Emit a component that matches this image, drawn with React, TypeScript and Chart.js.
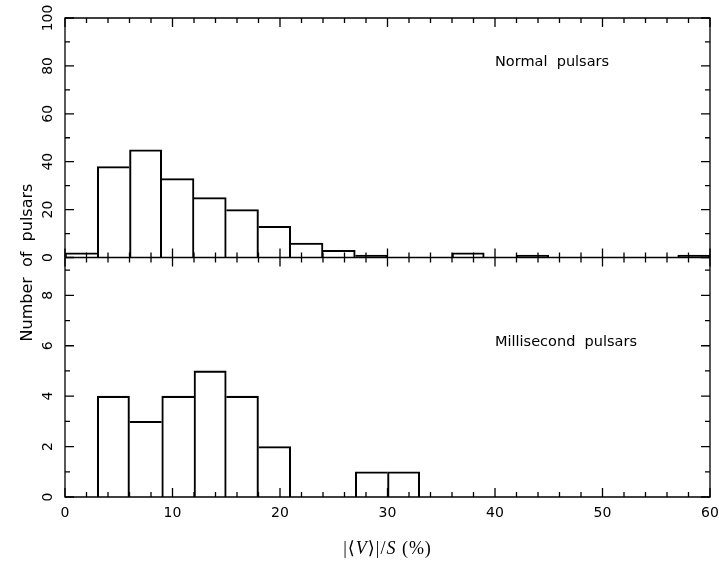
import React, { useEffect, useRef } from "react";
import { Chart, registerables } from "chart.js";

Chart.register(...registerables);

// ---- data ----
const binStarts = [0, 3, 6, 9, 12, 15, 18, 21, 24, 27, 30, 33, 36, 39, 42, 45, 48, 51, 54, 57];
const binWidth = 3;
const normalCounts = [2, 38, 45, 33, 25, 20, 13, 6, 3, 1, 0, 0, 2, 0, 1, 0, 0, 0, 0, 1];
const msCounts = [0, 4, 3, 4, 5, 4, 2, 0, 0, 1, 1, 0, 0, 0, 0, 0, 0, 0, 0, 0];

const xMajorTicks = [0, 10, 20, 30, 40, 50, 60];
const xMinorTicks = [2, 4, 6, 8, 12, 14, 16, 18, 22, 24, 26, 28, 32, 34, 36, 38, 42, 44, 46, 48, 52, 54, 56, 58];
const topYMajor = [0, 20, 40, 60, 80, 100];
const topYMinor = [10, 30, 50, 70, 90];
const botYMajor = [0, 2, 4, 6, 8];
const botYMinor = [1, 3, 5, 7, 9];
const botYMax = 9.5;

const topLabel = "Normal  pulsars";
const botLabel = "Millisecond  pulsars";
const yTitle = "Number  of  pulsars";

const EDGE = 1.4;

const pgAxes = {
  id: "pgAxes",
  afterDraw(chart: any) {
    const ctx = chart.ctx as CanvasRenderingContext2D;
    const xs = chart.scales.x;
    const yt = chart.scales.yTop;
    const yb = chart.scales.yBot;
    const xMin = xMajorTicks[0];
    const xMax = xMajorTicks[xMajorTicks.length - 1];
    const left = xs.getPixelForValue(xMin);
    const right = xs.getPixelForValue(xMax);
    const top = yt.getPixelForValue(topYMajor[topYMajor.length - 1]);
    const mid = yt.getPixelForValue(0);
    const bottom = yb.getPixelForValue(0);
    const maj = 9;
    const min = 5;

    ctx.save();
    ctx.strokeStyle = "#000";
    ctx.lineWidth = 1.3;
    ctx.beginPath();
    ctx.rect(left, top, right - left, bottom - top);
    ctx.moveTo(left, mid);
    ctx.lineTo(right, mid);
    ctx.stroke();

    ctx.beginPath();
    const xt = (v: number, len: number) => {
      const p = xs.getPixelForValue(v);
      ctx.moveTo(p, top);
      ctx.lineTo(p, top + len);
      ctx.moveTo(p, mid - len);
      ctx.lineTo(p, mid + len);
      ctx.moveTo(p, bottom);
      ctx.lineTo(p, bottom - len);
    };
    xMajorTicks.forEach((v) => xt(v, maj));
    xMinorTicks.forEach((v) => xt(v, min));
    const yTick = (sc: any, v: number, len: number) => {
      const p = sc.getPixelForValue(v);
      ctx.moveTo(left, p);
      ctx.lineTo(left + len, p);
      ctx.moveTo(right, p);
      ctx.lineTo(right - len, p);
    };
    topYMajor.forEach((v) => yTick(yt, v, maj));
    topYMinor.forEach((v) => yTick(yt, v, min));
    botYMajor.forEach((v) => yTick(yb, v, maj));
    botYMinor.forEach((v) => yTick(yb, v, min));
    ctx.stroke();

    // tick labels
    ctx.fillStyle = "#000";
    ctx.font = "14px 'DejaVu Sans'";
    ctx.textAlign = "center";
    ctx.textBaseline = "middle";
    xMajorTicks.forEach((v) => {
      ctx.fillText(String(v), xs.getPixelForValue(v), bottom + 16);
    });
    const yLab = (sc: any, v: number) => {
      const p = sc.getPixelForValue(v);
      ctx.save();
      ctx.translate(left - 17, p);
      ctx.rotate(-Math.PI / 2);
      ctx.fillText(String(v), 0, 0);
      ctx.restore();
    };
    topYMajor.forEach((v) => yLab(yt, v));
    botYMajor.forEach((v) => yLab(yb, v));

    // y title
    ctx.save();
    ctx.font = "16px 'DejaVu Sans'";
    ctx.textBaseline = "alphabetic";
    ctx.translate(left - 33, (top + bottom) / 2 + 5);
    ctx.rotate(-Math.PI / 2);
    ctx.fillText(yTitle, 0, 0);
    ctx.restore();

    // panel labels
    ctx.font = "14.5px 'DejaVu Sans'";
    ctx.textAlign = "left";
    ctx.textBaseline = "alphabetic";
    ctx.fillText(topLabel, xs.getPixelForValue(40), yt.getPixelForValue(80));
    ctx.fillText(botLabel, xs.getPixelForValue(40), yb.getPixelForValue(6));

    // x title: |<V>|/S (%)
    const parts: [string, boolean][] = [
      ["|\u27E8", false],
      ["V", true],
      ["\u27E9|/", false],
      ["S", true],
      [" (%)", false],
    ];
    const fam = "'Liberation Serif', 'DejaVu Serif', serif";
    (ctx as any).letterSpacing = "1px";
    let total = 0;
    parts.forEach(([t, it]) => {
      ctx.font = (it ? "italic " : "") + "18px " + fam;
      total += ctx.measureText(t).width;
    });
    let cx = (left + right) / 2 - total / 2;
    const ty = bottom + 57;
    ctx.textAlign = "left";
    parts.forEach(([t, it]) => {
      ctx.font = (it ? "italic " : "") + "18px " + fam;
      ctx.fillText(t, cx, ty);
      cx += ctx.measureText(t).width;
    });
    (ctx as any).letterSpacing = "0px";
    ctx.restore();
  },
};

// each shared bin edge is drawn once, by the taller of the two neighbouring bars
const edgeWidths = (counts: number[]) => (c: any) => {
  const i = c.dataIndex;
  const v = counts[i];
  const prev = i > 0 ? counts[i - 1] : 0;
  const next = i < counts.length - 1 ? counts[i + 1] : 0;
  return { top: EDGE, bottom: 0, left: v >= prev ? EDGE : 0, right: v > next ? EDGE : 0 };
};

export default function App() {
  const ref = useRef<HTMLCanvasElement | null>(null);
  useEffect(() => {
    if (!ref.current) return;
    const barStyle = {
      backgroundColor: "rgba(255,255,255,0)",
      borderColor: "#000",
      borderSkipped: false,
      barPercentage: 1,
      categoryPercentage: 1,
      grouped: false,
    };
    const chart = new Chart(ref.current, {
      type: "bar",
      data: {
        datasets: [
          {
            label: "Normal pulsars",
            data: binStarts.map((s, i) => ({ x: s + binWidth / 2, y: normalCounts[i] })),
            yAxisID: "yTop",
            borderWidth: edgeWidths(normalCounts),
            ...barStyle,
          } as any,
          {
            label: "Millisecond pulsars",
            data: binStarts.map((s, i) => ({ x: s + binWidth / 2, y: msCounts[i] })),
            yAxisID: "yBot",
            borderWidth: edgeWidths(msCounts),
            ...barStyle,
          } as any,
        ],
      },
      options: {
        animation: false,
        responsive: false,
        devicePixelRatio: 1,
        layout: { padding: { left: 65, right: 9, top: 18, bottom: 73 } },
        plugins: { legend: { display: false }, tooltip: { enabled: false } },
        scales: {
          x: {
            type: "linear",
            min: xMajorTicks[0],
            max: xMajorTicks[xMajorTicks.length - 1],
            offset: false,
            display: false,
          },
          yTop: {
            type: "linear",
            position: "left",
            min: topYMajor[0],
            max: topYMajor[topYMajor.length - 1],
            stack: "panels",
            stackWeight: 1,
            weight: 2,
            display: false,
          },
          yBot: {
            type: "linear",
            position: "left",
            min: botYMajor[0],
            max: botYMax,
            stack: "panels",
            stackWeight: 1,
            weight: 1,
            display: false,
          },
        },
      } as any,
      plugins: [pgAxes],
    });
    return () => chart.destroy();
  }, []);
  return (
    <div style={{ position: "absolute", left: 0, top: 0, width: 719, height: 570 }}>
      <canvas ref={ref} width={719} height={570} />
    </div>
  );
}
